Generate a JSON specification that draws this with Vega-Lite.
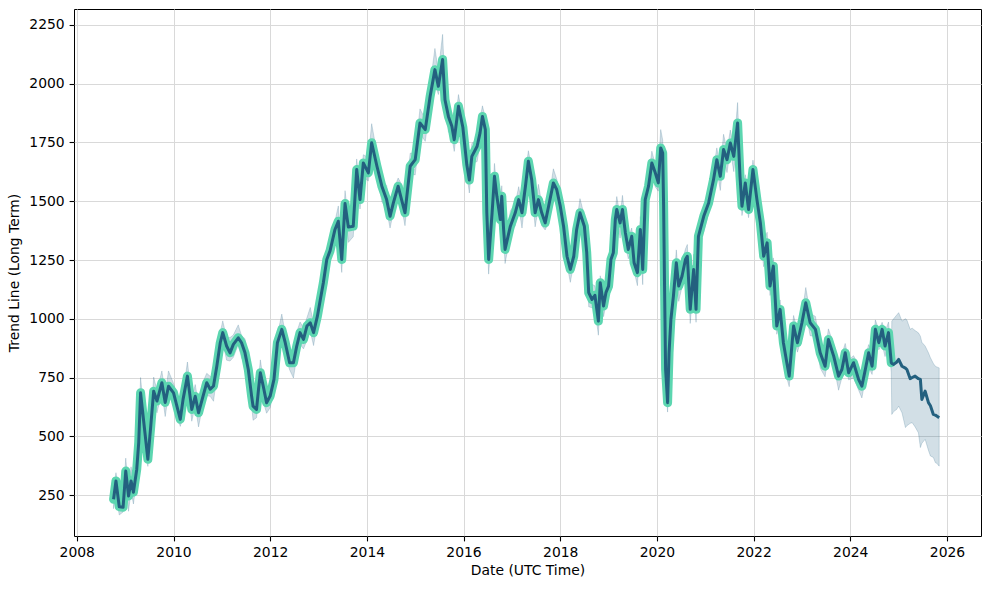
{
"$schema":"https://vega.github.io/schema/vega-lite/v6.json",
"width":907,"height":527,
"autosize":{"type":"none"},
"padding":{"left":74,"top":9,"right":8,"bottom":54},
"background":"white",
"config":{
 "view":{"stroke":"black","strokeWidth":1},
 "font":"DejaVu Sans",
 "axis":{"labelFont":"DejaVu Sans","labelFontSize":13.9,"labelColor":"black","titleFont":"DejaVu Sans","titleFontSize":13.9,"titleFontWeight":"normal","titleColor":"black","tickColor":"black","tickSize":4.9,"tickWidth":1.1,"labelPadding":4.9,"domain":false,"grid":true,"gridColor":"#d9d9d9","gridWidth":1}
},
"data":{"values":[
{"date":"2008-10-05","y":232,"lo":192,"hi":282,"part":"h"},
{"date":"2008-10-23","y":310,"lo":250,"hi":345,"part":"h"},
{"date":"2008-11-17","y":200,"lo":165,"hi":265,"part":"h"},
{"date":"2008-12-16","y":198,"lo":178,"hi":238,"part":"h"},
{"date":"2009-01-05","y":352,"lo":322,"hi":407,"part":"h"},
{"date":"2009-01-26","y":246,"lo":181,"hi":276,"part":"h"},
{"date":"2009-02-14","y":310,"lo":265,"hi":370,"part":"h"},
{"date":"2009-03-04","y":262,"lo":212,"hi":307,"part":"h"},
{"date":"2009-03-29","y":359,"lo":319,"hi":409,"part":"h"},
{"date":"2009-04-13","y":473,"lo":413,"hi":508,"part":"h"},
{"date":"2009-04-27","y":685,"lo":650,"hi":750,"part":"h"},
{"date":"2009-05-30","y":515,"lo":460,"hi":555,"part":"h"},
{"date":"2009-06-21","y":402,"lo":372,"hi":457,"part":"h"},
{"date":"2009-07-13","y":543,"lo":478,"hi":573,"part":"h"},
{"date":"2009-08-04","y":692,"lo":647,"hi":752,"part":"h"},
{"date":"2009-08-29","y":650,"lo":600,"hi":695,"part":"h"},
{"date":"2009-10-05","y":728,"lo":688,"hi":778,"part":"h"},
{"date":"2009-10-30","y":644,"lo":584,"hi":679,"part":"h"},
{"date":"2009-11-24","y":713,"lo":678,"hi":778,"part":"h"},
{"date":"2010-01-01","y":685,"lo":630,"hi":725,"part":"h"},
{"date":"2010-02-21","y":572,"lo":542,"hi":627,"part":"h"},
{"date":"2010-03-14","y":657,"lo":592,"hi":687,"part":"h"},
{"date":"2010-04-16","y":756,"lo":711,"hi":816,"part":"h"},
{"date":"2010-05-19","y":614,"lo":564,"hi":659,"part":"h"},
{"date":"2010-06-14","y":670,"lo":630,"hi":720,"part":"h"},
{"date":"2010-07-09","y":600,"lo":540,"hi":635,"part":"h"},
{"date":"2010-08-07","y":660,"lo":625,"hi":725,"part":"h"},
{"date":"2010-09-09","y":728,"lo":673,"hi":768,"part":"h"},
{"date":"2010-10-05","y":700,"lo":670,"hi":755,"part":"h"},
{"date":"2010-10-30","y":714,"lo":649,"hi":744,"part":"h"},
{"date":"2010-11-24","y":798,"lo":753,"hi":858,"part":"h"},
{"date":"2010-12-20","y":898,"lo":848,"hi":943,"part":"h"},
{"date":"2011-01-08","y":941,"lo":901,"hi":991,"part":"h"},
{"date":"2011-02-06","y":884,"lo":824,"hi":919,"part":"h"},
{"date":"2011-03-04","y":855,"lo":820,"hi":920,"part":"h"},
{"date":"2011-03-29","y":891,"lo":836,"hi":931,"part":"h"},
{"date":"2011-05-05","y":919,"lo":889,"hi":974,"part":"h"},
{"date":"2011-05-30","y":898,"lo":833,"hi":928,"part":"h"},
{"date":"2011-06-25","y":855,"lo":810,"hi":915,"part":"h"},
{"date":"2011-07-20","y":784,"lo":734,"hi":829,"part":"h"},
{"date":"2011-08-14","y":671,"lo":631,"hi":721,"part":"h"},
{"date":"2011-08-25","y":628,"lo":568,"hi":663,"part":"h"},
{"date":"2011-09-20","y":614,"lo":579,"hi":679,"part":"h"},
{"date":"2011-10-05","y":699,"lo":644,"hi":739,"part":"h"},
{"date":"2011-10-19","y":770,"lo":740,"hi":825,"part":"h"},
{"date":"2011-11-10","y":713,"lo":648,"hi":743,"part":"h"},
{"date":"2011-12-05","y":643,"lo":598,"hi":703,"part":"h"},
{"date":"2012-01-01","y":671,"lo":621,"hi":716,"part":"h"},
{"date":"2012-01-30","y":742,"lo":702,"hi":792,"part":"h"},
{"date":"2012-02-25","y":898,"lo":838,"hi":933,"part":"h"},
{"date":"2012-03-29","y":955,"lo":920,"hi":1020,"part":"h"},
{"date":"2012-04-24","y":898,"lo":843,"hi":938,"part":"h"},
{"date":"2012-05-27","y":813,"lo":783,"hi":868,"part":"h"},
{"date":"2012-06-25","y":813,"lo":748,"hi":843,"part":"h"},
{"date":"2012-07-20","y":884,"lo":839,"hi":944,"part":"h"},
{"date":"2012-08-14","y":941,"lo":891,"hi":986,"part":"h"},
{"date":"2012-09-09","y":912,"lo":872,"hi":962,"part":"h"},
{"date":"2012-10-05","y":969,"lo":909,"hi":1004,"part":"h"},
{"date":"2012-10-30","y":983,"lo":948,"hi":1048,"part":"h"},
{"date":"2012-11-24","y":941,"lo":886,"hi":981,"part":"h"},
{"date":"2012-12-23","y":1011,"lo":981,"hi":1066,"part":"h"},
{"date":"2013-01-12","y":1075,"lo":1010,"hi":1105,"part":"h"},
{"date":"2013-02-06","y":1153,"lo":1108,"hi":1213,"part":"h"},
{"date":"2013-03-04","y":1252,"lo":1202,"hi":1297,"part":"h"},
{"date":"2013-03-29","y":1290,"lo":1250,"hi":1340,"part":"h"},
{"date":"2013-05-05","y":1380,"lo":1320,"hi":1415,"part":"h"},
{"date":"2013-05-30","y":1415,"lo":1380,"hi":1480,"part":"h"},
{"date":"2013-06-25","y":1252,"lo":1197,"hi":1292,"part":"h"},
{"date":"2013-07-20","y":1490,"lo":1460,"hi":1545,"part":"h"},
{"date":"2013-08-14","y":1390,"lo":1325,"hi":1420,"part":"h"},
{"date":"2013-09-20","y":1394,"lo":1349,"hi":1454,"part":"h"},
{"date":"2013-10-16","y":1635,"lo":1585,"hi":1680,"part":"h"},
{"date":"2013-11-10","y":1507,"lo":1467,"hi":1557,"part":"h"},
{"date":"2013-12-05","y":1663,"lo":1603,"hi":1698,"part":"h"},
{"date":"2014-01-12","y":1621,"lo":1586,"hi":1686,"part":"h"},
{"date":"2014-02-06","y":1749,"lo":1694,"hi":1830,"part":"h"},
{"date":"2014-03-18","y":1649,"lo":1619,"hi":1704,"part":"h"},
{"date":"2014-04-24","y":1564,"lo":1499,"hi":1594,"part":"h"},
{"date":"2014-05-30","y":1507,"lo":1462,"hi":1567,"part":"h"},
{"date":"2014-06-25","y":1436,"lo":1386,"hi":1481,"part":"h"},
{"date":"2014-07-20","y":1493,"lo":1453,"hi":1543,"part":"h"},
{"date":"2014-08-25","y":1564,"lo":1504,"hi":1599,"part":"h"},
{"date":"2014-09-20","y":1507,"lo":1472,"hi":1572,"part":"h"},
{"date":"2014-10-16","y":1451,"lo":1396,"hi":1491,"part":"h"},
{"date":"2014-11-24","y":1649,"lo":1619,"hi":1704,"part":"h"},
{"date":"2015-01-01","y":1677,"lo":1612,"hi":1707,"part":"h"},
{"date":"2015-02-06","y":1833,"lo":1788,"hi":1893,"part":"h"},
{"date":"2015-03-18","y":1805,"lo":1755,"hi":1850,"part":"h"},
{"date":"2015-04-24","y":1947,"lo":1907,"hi":1997,"part":"h"},
{"date":"2015-05-30","y":2060,"lo":2000,"hi":2150,"part":"h"},
{"date":"2015-06-25","y":1989,"lo":1954,"hi":2054,"part":"h"},
{"date":"2015-07-27","y":2103,"lo":2048,"hi":2210,"part":"h"},
{"date":"2015-08-14","y":1932,"lo":1902,"hi":1987,"part":"h"},
{"date":"2015-09-09","y":1861,"lo":1796,"hi":1891,"part":"h"},
{"date":"2015-10-05","y":1819,"lo":1774,"hi":1879,"part":"h"},
{"date":"2015-10-23","y":1762,"lo":1712,"hi":1807,"part":"h"},
{"date":"2015-11-24","y":1904,"lo":1864,"hi":1954,"part":"h"},
{"date":"2015-12-27","y":1815,"lo":1755,"hi":1850,"part":"h"},
{"date":"2016-01-26","y":1655,"lo":1620,"hi":1720,"part":"h"},
{"date":"2016-02-14","y":1590,"lo":1535,"hi":1630,"part":"h"},
{"date":"2016-03-04","y":1691,"lo":1661,"hi":1746,"part":"h"},
{"date":"2016-04-13","y":1734,"lo":1669,"hi":1764,"part":"h"},
{"date":"2016-05-05","y":1791,"lo":1746,"hi":1851,"part":"h"},
{"date":"2016-05-23","y":1861,"lo":1811,"hi":1906,"part":"h"},
{"date":"2016-06-14","y":1805,"lo":1765,"hi":1855,"part":"h"},
{"date":"2016-06-25","y":1451,"lo":1391,"hi":1486,"part":"h"},
{"date":"2016-07-09","y":1252,"lo":1190,"hi":1317,"part":"h"},
{"date":"2016-08-04","y":1451,"lo":1396,"hi":1491,"part":"h"},
{"date":"2016-08-22","y":1606,"lo":1576,"hi":1661,"part":"h"},
{"date":"2016-09-09","y":1521,"lo":1456,"hi":1551,"part":"h"},
{"date":"2016-10-05","y":1422,"lo":1377,"hi":1482,"part":"h"},
{"date":"2016-10-16","y":1521,"lo":1471,"hi":1566,"part":"h"},
{"date":"2016-10-30","y":1380,"lo":1340,"hi":1430,"part":"h"},
{"date":"2016-11-10","y":1295,"lo":1235,"hi":1330,"part":"h"},
{"date":"2016-12-20","y":1394,"lo":1359,"hi":1459,"part":"h"},
{"date":"2017-01-26","y":1451,"lo":1396,"hi":1491,"part":"h"},
{"date":"2017-02-21","y":1507,"lo":1477,"hi":1562,"part":"h"},
{"date":"2017-03-18","y":1451,"lo":1386,"hi":1481,"part":"h"},
{"date":"2017-04-13","y":1564,"lo":1519,"hi":1624,"part":"h"},
{"date":"2017-05-05","y":1670,"lo":1620,"hi":1715,"part":"h"},
{"date":"2017-05-30","y":1592,"lo":1552,"hi":1642,"part":"h"},
{"date":"2017-06-25","y":1451,"lo":1391,"hi":1486,"part":"h"},
{"date":"2017-07-20","y":1507,"lo":1472,"hi":1572,"part":"h"},
{"date":"2017-08-14","y":1451,"lo":1396,"hi":1491,"part":"h"},
{"date":"2017-09-09","y":1408,"lo":1378,"hi":1463,"part":"h"},
{"date":"2017-10-05","y":1479,"lo":1414,"hi":1509,"part":"h"},
{"date":"2017-11-10","y":1578,"lo":1533,"hi":1638,"part":"h"},
{"date":"2017-12-05","y":1550,"lo":1500,"hi":1595,"part":"h"},
{"date":"2018-01-01","y":1479,"lo":1439,"hi":1529,"part":"h"},
{"date":"2018-01-26","y":1394,"lo":1334,"hi":1429,"part":"h"},
{"date":"2018-02-21","y":1266,"lo":1231,"hi":1331,"part":"h"},
{"date":"2018-03-18","y":1210,"lo":1155,"hi":1250,"part":"h"},
{"date":"2018-04-13","y":1266,"lo":1236,"hi":1321,"part":"h"},
{"date":"2018-05-05","y":1380,"lo":1315,"hi":1410,"part":"h"},
{"date":"2018-05-30","y":1451,"lo":1406,"hi":1511,"part":"h"},
{"date":"2018-07-02","y":1394,"lo":1344,"hi":1439,"part":"h"},
{"date":"2018-07-20","y":1281,"lo":1241,"hi":1331,"part":"h"},
{"date":"2018-08-04","y":1111,"lo":1051,"hi":1146,"part":"h"},
{"date":"2018-08-29","y":1082,"lo":1047,"hi":1147,"part":"h"},
{"date":"2018-09-20","y":1100,"lo":1045,"hi":1140,"part":"h"},
{"date":"2018-10-16","y":990,"lo":930,"hi":1045,"part":"h"},
{"date":"2018-10-30","y":1153,"lo":1088,"hi":1183,"part":"h"},
{"date":"2018-11-24","y":1054,"lo":1009,"hi":1114,"part":"h"},
{"date":"2018-12-12","y":1111,"lo":1061,"hi":1156,"part":"h"},
{"date":"2019-01-01","y":1139,"lo":1099,"hi":1189,"part":"h"},
{"date":"2019-01-19","y":1252,"lo":1192,"hi":1287,"part":"h"},
{"date":"2019-02-06","y":1281,"lo":1246,"hi":1346,"part":"h"},
{"date":"2019-02-21","y":1422,"lo":1367,"hi":1462,"part":"h"},
{"date":"2019-03-04","y":1465,"lo":1435,"hi":1520,"part":"h"},
{"date":"2019-03-29","y":1408,"lo":1343,"hi":1438,"part":"h"},
{"date":"2019-04-16","y":1465,"lo":1420,"hi":1525,"part":"h"},
{"date":"2019-05-08","y":1366,"lo":1316,"hi":1411,"part":"h"},
{"date":"2019-05-30","y":1295,"lo":1255,"hi":1345,"part":"h"},
{"date":"2019-06-25","y":1351,"lo":1291,"hi":1386,"part":"h"},
{"date":"2019-07-13","y":1238,"lo":1203,"hi":1303,"part":"h"},
{"date":"2019-08-07","y":1196,"lo":1141,"hi":1236,"part":"h"},
{"date":"2019-08-29","y":1380,"lo":1350,"hi":1435,"part":"h"},
{"date":"2019-09-16","y":1210,"lo":1145,"hi":1240,"part":"h"},
{"date":"2019-10-05","y":1507,"lo":1462,"hi":1567,"part":"h"},
{"date":"2019-10-30","y":1564,"lo":1514,"hi":1609,"part":"h"},
{"date":"2019-11-24","y":1663,"lo":1623,"hi":1713,"part":"h"},
{"date":"2019-12-20","y":1621,"lo":1561,"hi":1656,"part":"h"},
{"date":"2020-01-12","y":1578,"lo":1543,"hi":1643,"part":"h"},
{"date":"2020-01-30","y":1727,"lo":1672,"hi":1805,"part":"h"},
{"date":"2020-02-14","y":1705,"lo":1675,"hi":1760,"part":"h"},
{"date":"2020-02-21","y":1479,"lo":1414,"hi":1509,"part":"h"},
{"date":"2020-02-28","y":1139,"lo":1094,"hi":1199,"part":"h"},
{"date":"2020-03-07","y":784,"lo":734,"hi":829,"part":"h"},
{"date":"2020-03-22","y":643,"lo":603,"hi":693,"part":"h"},
{"date":"2020-04-02","y":855,"lo":795,"hi":890,"part":"h"},
{"date":"2020-04-16","y":997,"lo":962,"hi":1062,"part":"h"},
{"date":"2020-05-05","y":1096,"lo":1041,"hi":1136,"part":"h"},
{"date":"2020-05-27","y":1238,"lo":1208,"hi":1293,"part":"h"},
{"date":"2020-06-14","y":1139,"lo":1074,"hi":1169,"part":"h"},
{"date":"2020-07-09","y":1181,"lo":1136,"hi":1241,"part":"h"},
{"date":"2020-08-04","y":1252,"lo":1202,"hi":1297,"part":"h"},
{"date":"2020-08-18","y":1266,"lo":1226,"hi":1316,"part":"h"},
{"date":"2020-09-09","y":1040,"lo":980,"hi":1075,"part":"h"},
{"date":"2020-10-05","y":1210,"lo":1175,"hi":1275,"part":"h"},
{"date":"2020-10-23","y":1040,"lo":985,"hi":1080,"part":"h"},
{"date":"2020-11-10","y":1351,"lo":1321,"hi":1406,"part":"h"},
{"date":"2020-12-20","y":1436,"lo":1371,"hi":1466,"part":"h"},
{"date":"2021-01-26","y":1493,"lo":1448,"hi":1553,"part":"h"},
{"date":"2021-03-04","y":1592,"lo":1542,"hi":1637,"part":"h"},
{"date":"2021-03-29","y":1677,"lo":1637,"hi":1727,"part":"h"},
{"date":"2021-04-24","y":1606,"lo":1546,"hi":1641,"part":"h"},
{"date":"2021-05-19","y":1720,"lo":1685,"hi":1785,"part":"h"},
{"date":"2021-06-14","y":1677,"lo":1622,"hi":1717,"part":"h"},
{"date":"2021-07-09","y":1748,"lo":1718,"hi":1803,"part":"h"},
{"date":"2021-08-04","y":1691,"lo":1626,"hi":1721,"part":"h"},
{"date":"2021-09-02","y":1833,"lo":1788,"hi":1920,"part":"h"},
{"date":"2021-09-20","y":1606,"lo":1556,"hi":1651,"part":"h"},
{"date":"2021-10-05","y":1479,"lo":1439,"hi":1529,"part":"h"},
{"date":"2021-10-30","y":1578,"lo":1518,"hi":1613,"part":"h"},
{"date":"2021-11-24","y":1465,"lo":1430,"hi":1530,"part":"h"},
{"date":"2021-12-27","y":1635,"lo":1580,"hi":1675,"part":"h"},
{"date":"2022-01-26","y":1507,"lo":1477,"hi":1562,"part":"h"},
{"date":"2022-02-21","y":1408,"lo":1343,"hi":1438,"part":"h"},
{"date":"2022-03-18","y":1266,"lo":1221,"hi":1326,"part":"h"},
{"date":"2022-04-13","y":1323,"lo":1273,"hi":1368,"part":"h"},
{"date":"2022-05-05","y":1139,"lo":1099,"hi":1189,"part":"h"},
{"date":"2022-05-30","y":1224,"lo":1164,"hi":1259,"part":"h"},
{"date":"2022-06-25","y":969,"lo":934,"hi":1034,"part":"h"},
{"date":"2022-07-20","y":1040,"lo":985,"hi":1080,"part":"h"},
{"date":"2022-08-14","y":898,"lo":868,"hi":953,"part":"h"},
{"date":"2022-09-09","y":813,"lo":748,"hi":843,"part":"h"},
{"date":"2022-09-27","y":756,"lo":711,"hi":816,"part":"h"},
{"date":"2022-10-30","y":969,"lo":919,"hi":1014,"part":"h"},
{"date":"2022-11-28","y":898,"lo":858,"hi":948,"part":"h"},
{"date":"2023-01-01","y":983,"lo":923,"hi":1018,"part":"h"},
{"date":"2023-01-30","y":1068,"lo":1033,"hi":1133,"part":"h"},
{"date":"2023-03-04","y":983,"lo":928,"hi":1023,"part":"h"},
{"date":"2023-04-13","y":955,"lo":925,"hi":1010,"part":"h"},
{"date":"2023-05-19","y":855,"lo":790,"hi":885,"part":"h"},
{"date":"2023-06-25","y":798,"lo":753,"hi":858,"part":"h"},
{"date":"2023-07-20","y":912,"lo":862,"hi":957,"part":"h"},
{"date":"2023-08-29","y":841,"lo":801,"hi":891,"part":"h"},
{"date":"2023-10-05","y":756,"lo":696,"hi":791,"part":"h"},
{"date":"2023-10-30","y":784,"lo":749,"hi":849,"part":"h"},
{"date":"2023-11-24","y":855,"lo":800,"hi":895,"part":"h"},
{"date":"2023-12-20","y":770,"lo":740,"hi":825,"part":"h"},
{"date":"2024-01-26","y":813,"lo":748,"hi":843,"part":"h"},
{"date":"2024-03-04","y":742,"lo":697,"hi":802,"part":"h"},
{"date":"2024-03-29","y":713,"lo":663,"hi":758,"part":"h"},
{"date":"2024-04-24","y":784,"lo":744,"hi":834,"part":"h"},
{"date":"2024-05-19","y":855,"lo":795,"hi":890,"part":"h"},
{"date":"2024-06-14","y":798,"lo":763,"hi":863,"part":"h"},
{"date":"2024-07-09","y":955,"lo":900,"hi":995,"part":"h"},
{"date":"2024-08-04","y":898,"lo":868,"hi":953,"part":"h"},
{"date":"2024-08-29","y":955,"lo":890,"hi":985,"part":"h"},
{"date":"2024-09-20","y":884,"lo":839,"hi":944,"part":"h"},
{"date":"2024-10-16","y":941,"lo":891,"hi":986,"part":"h"},
{"date":"2024-11-06","y":813,"lo":773,"hi":863,"part":"h"},
{"date":"2024-11-10","y":810,"lo":593,"hi":990,"part":"f"},
{"date":"2024-11-24","y":806,"lo":605,"hi":1000,"part":"f"},
{"date":"2024-12-16","y":815,"lo":614,"hi":1015,"part":"f"},
{"date":"2025-01-01","y":827,"lo":628,"hi":1026,"part":"f"},
{"date":"2025-01-26","y":798,"lo":600,"hi":990,"part":"f"},
{"date":"2025-02-21","y":790,"lo":537,"hi":1000,"part":"f"},
{"date":"2025-03-04","y":784,"lo":545,"hi":995,"part":"f"},
{"date":"2025-03-29","y":745,"lo":555,"hi":955,"part":"f"},
{"date":"2025-04-13","y":750,"lo":558,"hi":960,"part":"f"},
{"date":"2025-05-05","y":756,"lo":540,"hi":950,"part":"f"},
{"date":"2025-05-30","y":745,"lo":515,"hi":940,"part":"f"},
{"date":"2025-06-14","y":742,"lo":452,"hi":926,"part":"f"},
{"date":"2025-06-25","y":657,"lo":470,"hi":900,"part":"f"},
{"date":"2025-07-20","y":692,"lo":487,"hi":884,"part":"f"},
{"date":"2025-08-14","y":643,"lo":440,"hi":855,"part":"f"},
{"date":"2025-08-29","y":630,"lo":416,"hi":834,"part":"f"},
{"date":"2025-09-20","y":593,"lo":410,"hi":810,"part":"f"},
{"date":"2025-10-05","y":590,"lo":388,"hi":798,"part":"f"},
{"date":"2025-10-16","y":586,"lo":385,"hi":795,"part":"f"},
{"date":"2025-11-03","y":579,"lo":373,"hi":791,"part":"f"}
]},
"encoding":{
 "x":{"field":"date","type":"temporal","title":"Date (UTC Time)",
  "scale":{"domain":[{"year":2007,"month":12,"date":11},{"year":2026,"month":9,"date":15}]},
  "axis":{"values":[{"year":2008},{"year":2010},{"year":2012},{"year":2014},{"year":2016},{"year":2018},{"year":2020},{"year":2022},{"year":2024},{"year":2026}],"format":"%Y","labelFlush":false,"labelOverlap":false,"titlePadding":4}}
},
"layer":[
 {"mark":{"type":"area","color":"#205f80","fillOpacity":0.2,"stroke":"#205f80","strokeOpacity":0.2,"strokeWidth":1},
  "encoding":{"y":{"field":"lo","type":"quantitative","title":"Trend Line (Long Term)","scale":{"domain":[75.7,2318],"nice":false,"zero":false},
   "axis":{"values":[250,500,750,1000,1250,1500,1750,2000,2250],"format":"d","titlePadding":7,"labelFlush":false}},
   "y2":{"field":"hi"}}},
 {"transform":[{"filter":"datum.part == 'h'"}],
  "mark":{"type":"line","color":"#5cd6b0","strokeWidth":9,"strokeJoin":"round","strokeCap":"round"},
  "encoding":{"y":{"field":"y","type":"quantitative","title":"Trend Line (Long Term)","scale":{"domain":[75.7,2318],"nice":false,"zero":false}}}},
 {"mark":{"type":"line","color":"#23607f","strokeWidth":3,"strokeJoin":"round"},
  "encoding":{"y":{"field":"y","type":"quantitative","title":"Trend Line (Long Term)","scale":{"domain":[75.7,2318],"nice":false,"zero":false}}}}
]
}
